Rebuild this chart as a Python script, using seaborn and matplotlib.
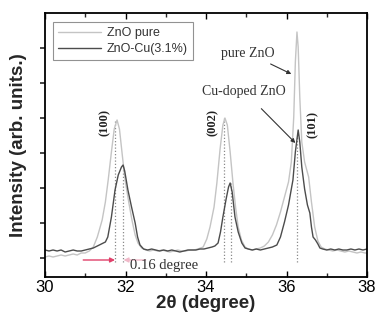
import numpy as np
import pandas as pd
import matplotlib
matplotlib.use("Agg")
import matplotlib.pyplot as plt
import seaborn as sns

# ---- data (intensity in arbitrary units) ----
pure_x = [30.0, 30.1, 30.2, 30.3, 30.4, 30.5, 30.6, 30.7, 30.8, 30.9, 31.0, 31.1, 31.2, 31.3,
          31.42, 31.5, 31.57, 31.65, 31.72, 31.79, 31.85, 31.92, 31.99, 32.08, 32.16, 32.24,
          32.31, 32.4, 32.5, 32.6, 32.7, 32.8, 32.9, 33.0, 33.1, 33.2, 33.3, 33.4, 33.5, 33.6,
          33.7, 33.8, 33.93, 34.02, 34.1, 34.2, 34.27, 34.35, 34.42, 34.47, 34.53, 34.6, 34.67,
          34.74, 34.8, 34.88, 34.97, 35.05, 35.15, 35.25, 35.35, 35.45, 35.55, 35.65, 35.75,
          35.85, 35.95, 36.05, 36.12, 36.18, 36.22, 36.26, 36.29, 36.33, 36.38, 36.45, 36.55,
          36.62, 36.7, 36.78, 36.86, 36.95, 37.05, 37.15, 37.25, 37.35, 37.45, 37.55, 37.65,
          37.75, 37.85, 37.95, 38.0]
pure_y = [20, 21, 20, 21, 22, 21, 22, 23, 22, 24, 24, 26, 30, 40,
          57, 75, 97, 125, 148, 157, 148, 122, 97, 75, 57, 42,
          34, 29, 27, 26, 27, 26, 27, 26, 25, 26, 27, 26, 26, 27,
          27, 28, 30, 38, 50, 70, 94, 128, 152, 159, 152, 125, 94,
          68, 50, 37, 30, 28, 27, 28, 29, 31, 35, 42, 52,
          65, 80, 95, 115, 160, 215, 245, 230, 180, 135, 115, 100,
          75, 50, 36, 30, 28, 27, 26, 27, 26, 25, 26, 25,
          24, 25, 24, 24]

cu_x = [30.0, 30.1, 30.2, 30.3, 30.4, 30.5, 30.6, 30.7, 30.8, 30.9, 31.0, 31.1, 31.2, 31.3,
        31.4, 31.5, 31.56, 31.65, 31.74, 31.82, 31.9, 31.94, 31.98, 32.06, 32.15, 32.24, 32.3,
        32.36, 32.45, 32.55, 32.65, 32.75, 32.85, 32.95, 33.05, 33.15, 33.25, 33.35, 33.45,
        33.55, 33.65, 33.75, 33.85, 33.95, 34.05, 34.15, 34.22, 34.3, 34.36, 34.42, 34.5,
        34.56, 34.6, 34.65, 34.72, 34.8, 34.89, 34.97, 35.05, 35.15, 35.25, 35.35, 35.45,
        35.55, 35.65, 35.76, 35.85, 35.95, 36.05, 36.12, 36.16, 36.22, 36.29, 36.33, 36.38,
        36.45, 36.52, 36.58, 36.62, 36.66, 36.72, 36.78, 36.83, 36.9, 37.0, 37.1, 37.2, 37.3,
        37.4, 37.5, 37.6, 37.7, 37.8, 37.9, 38.0]
cu_y = [27, 26, 27, 26, 27, 25, 26, 27, 26, 26, 27, 28, 29, 31,
        33, 35, 40, 60, 87, 102, 110, 112, 106, 87, 70, 54, 40,
        32, 28, 27, 28, 27, 26, 27, 26, 27, 26, 25, 26,
        27, 27, 27, 28, 28, 29, 30, 31, 34, 45, 60, 78,
        90, 94, 85, 60, 45, 34, 29, 28, 27, 28, 27, 28,
        29, 30, 32, 40, 55, 72, 88, 97, 125, 147, 135, 110,
        88, 72, 64, 50, 40, 37, 33, 29, 28, 27, 28, 27, 28,
        27, 27, 28, 27, 28, 27, 28]

series_names = ["ZnO pure", "ZnO-Cu(3.1%)"]
peak_lines_x = [31.75, 31.93, 34.45, 34.62, 36.27]
peak_lines_top = [157, 112, 159, 94, 140]
hkl_labels = ["(100)", "(002)", "(101)"]
hkl_x = [31.49, 34.17, 36.66]
hkl_y = [155, 155, 153]
x_ticks = [30, 32, 34, 36, 38]
y_ticks = [19, 54, 89, 124, 159, 194, 229]

# ---- figure ----
sns.set_theme(style="ticks")
plt.rcParams["font.family"] = ["Liberation Sans", "DejaVu Sans"]

df = pd.concat([
    pd.DataFrame({"x": pure_x, "y": pure_y, "s": series_names[0]}),
    pd.DataFrame({"x": cu_x, "y": cu_y, "s": series_names[1]}),
])

fig = plt.figure(figsize=(3.76, 3.22), dpi=100)
ax = fig.add_axes([45/376, 45/322, 322/376, 264/322])

sns.lineplot(data=df, x="x", y="y", hue="s", sort=False, estimator=None,
             palette={series_names[0]: "#c4c4c4", series_names[1]: "#4c4c4c"},
             linewidth=1.0, ax=ax, legend=True)

for xv, top in zip(peak_lines_x, peak_lines_top):
    ax.plot([xv, xv], [15, top], linestyle=(0, (1, 1.6)), color="#8a8a8a", lw=0.9, zorder=1)

for lab, xv, yv in zip(hkl_labels, hkl_x, hkl_y):
    ax.text(xv, yv, lab, rotation=90, ha="center", va="center",
            fontsize=9, fontweight="bold", family="Liberation Serif", color="#222222")

serif = "Liberation Serif"
ax.annotate("pure ZnO", xy=(36.12, 203), xytext=(35.04, 224), ha="center", va="center",
            fontsize=10, family=serif, color="#333333",
            arrowprops=dict(arrowstyle="-|>", color="#333333", lw=0.8, mutation_scale=6,
                            shrinkA=2, shrinkB=0))
ax.annotate("Cu-doped ZnO", xy=(36.22, 134), xytext=(34.94, 186), ha="center", va="center",
            fontsize=10, family=serif, color="#333333",
            arrowprops=dict(arrowstyle="-|>", color="#333333", lw=0.8, mutation_scale=6,
                            shrinkA=8, shrinkB=0))

ax.annotate("", xy=(31.74, 17), xytext=(30.95, 17),
            arrowprops=dict(arrowstyle="-|>", color="#e0406a", lw=1.0, mutation_scale=7,
                            shrinkA=0, shrinkB=0))
ax.annotate("", xy=(31.95, 17), xytext=(32.5, 17),
            arrowprops=dict(arrowstyle="-|>", color="#f0b8c8", lw=1.0, mutation_scale=7,
                            shrinkA=0, shrinkB=0))
ax.text(32.11, 11, "0.16 degree", ha="left", va="center", fontsize=10.5,
        family=serif, color="#333333")

ax.set_xlim(30, 38)
ax.set_ylim(0, 264)
ax.set_xticks(x_ticks)
ax.set_xticks([31, 33, 35, 37], minor=True)
ax.set_yticks(y_ticks)
ax.set_yticklabels([])
ax.tick_params(axis="x", direction="in", top=True, bottom=True, length=4, width=1,
               labelsize=12, pad=2, colors="black")
ax.tick_params(axis="x", which="minor", direction="in", top=True, bottom=True, length=3, width=1)
ax.tick_params(axis="y", direction="out", left=True, right=False, length=3.5, width=1.2)
for sp in ax.spines.values():
    sp.set_visible(True)
    sp.set_linewidth(1.3)
    sp.set_color("black")

ax.set_xlabel("2θ (degree)", fontsize=13.5, fontweight="bold", labelpad=0)
ax.set_ylabel("Intensity (arb. units.)", fontsize=13.5, fontweight="bold", labelpad=6)

leg = ax.legend(loc="upper left", bbox_to_anchor=(8/322, 1 - 9/264), frameon=True,
                fancybox=False, fontsize=9, handlelength=3.4, borderpad=0.4,
                labelspacing=0.35, handletextpad=0.5, borderaxespad=0)
leg.get_frame().set_edgecolor("#777777")
leg.get_frame().set_linewidth(0.8)
for t in leg.get_texts():
    t.set_color("#333333")

fig.savefig("out.png", dpi=100)
